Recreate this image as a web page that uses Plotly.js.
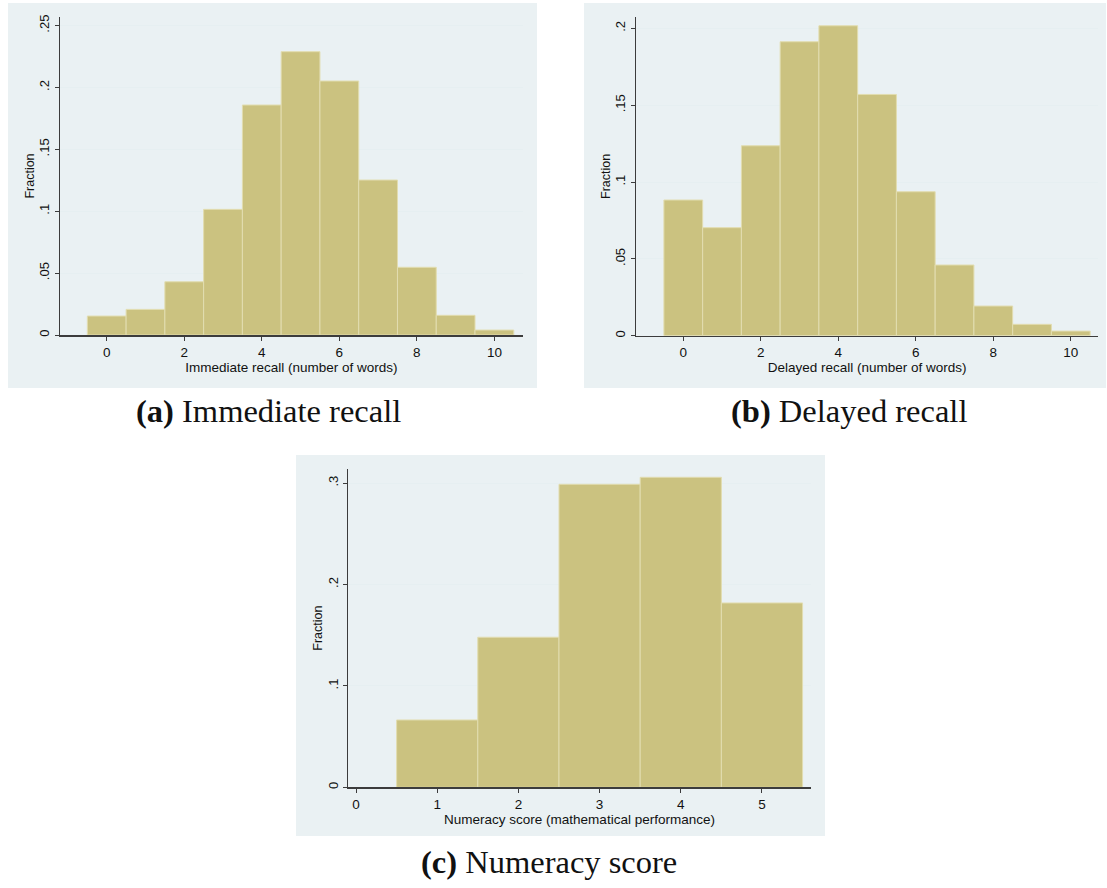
<!DOCTYPE html>
<html>
<head>
<meta charset="utf-8">
<script src="https://cdn.plot.ly/plotly-3.0.1.min.js"></script>
<style>
  html, body { margin: 0; padding: 0; background: #ffffff; }
  #chart { width: 1107px; height: 888px; }
</style>
</head>
<body>
<div id="chart"></div>
<script>
// Word-recall scores (number of words) and share of respondents at each score
const recallScores = [0, 1, 2, 3, 4, 5, 6, 7, 8, 9, 10];
const immediateFraction = [0.0153, 0.0207, 0.0430, 0.1015, 0.1858, 0.2289, 0.2052, 0.1252, 0.0547, 0.0159, 0.0040];
const delayedFraction = [0.0883, 0.0703, 0.1236, 0.1913, 0.2017, 0.1570, 0.0937, 0.0460, 0.0193, 0.0074, 0.0030];

// Numeracy score (mathematical performance) and share of respondents
const numeracyScores = [1, 2, 3, 4, 5];
const numeracyFraction = [0.0664, 0.1480, 0.2988, 0.3057, 0.1818];

// Axis ticks
const recallTicks = [0, 2, 4, 6, 8, 10];
const immediateYTicks = [0, 0.05, 0.10, 0.15, 0.20, 0.25];
const immediateYLabels = ['0', '.05', '.1', '.15', '.2', '.25'];
const delayedYTicks = [0, 0.05, 0.10, 0.15, 0.20];
const delayedYLabels = ['0', '.05', '.1', '.15', '.2'];
const numeracyTicks = [0, 1, 2, 3, 4, 5];
const numeracyYTicks = [0, 0.1, 0.2, 0.3];
const numeracyYLabels = ['0', '.1', '.2', '.3'];

// Captions
const captions = [
  {tag: '(a)', text: 'Immediate recall'},
  {tag: '(b)', text: 'Delayed recall'},
  {tag: '(c)', text: 'Numeracy score'}
];

const W = 1107, H = 888;
const px = v => v / W;          // horizontal pixel -> paper
const py = v => (H - v) / H;    // vertical pixel (from top) -> paper

const BAR = '#cbc280';
const BAR_EDGE = '#e2ddb0';
const REGION = '#eaf1f3';
const GRID = '#e6eff1';
const AXIS = '#3c3c3c';
const SANS = 'Liberation Sans, Arial, sans-serif';

function barTrace(x, y, xa, ya) {
  return {
    type: 'bar', x: x, y: y, xaxis: xa, yaxis: ya, width: 1,
    marker: {color: BAR, line: {color: BAR_EDGE, width: 1}},
    hoverinfo: 'x+y', showlegend: false
  };
}

function xAxis(domain, range, ticks, title, anchor) {
  return {
    domain: domain, range: range, anchor: anchor,
    tickmode: 'array', tickvals: ticks, ticktext: ticks.map(String),
    ticks: 'outside', ticklen: 4, tickwidth: 1, tickcolor: AXIS,
    showline: true, linecolor: AXIS, linewidth: 1.5,
    showgrid: false, zeroline: false,
    tickfont: {family: SANS, size: 13.5, color: '#111'},
    title: {text: title, font: {family: SANS, size: 13.5, color: '#111'}, standoff: 1},
    fixedrange: true
  };
}

function yAxis(domain, range, ticks, labels, anchor) {
  return {
    domain: domain, range: range, anchor: anchor,
    tickmode: 'array', tickvals: ticks, ticktext: labels, tickangle: -90,
    ticks: 'outside', ticklen: 4, tickwidth: 1, tickcolor: AXIS,
    showline: true, linecolor: AXIS, linewidth: 1.5,
    showgrid: true, gridcolor: GRID, gridwidth: 1, zeroline: false,
    tickfont: {family: SANS, size: 13, color: '#111'},
    title: {text: 'Fraction', font: {family: SANS, size: 12.5, color: '#111'}, standoff: 0},
    fixedrange: true
  };
}

const data = [
  barTrace(recallScores, immediateFraction, 'x', 'y'),
  barTrace(recallScores, delayedFraction, 'x2', 'y2'),
  barTrace(numeracyScores, numeracyFraction, 'x3', 'y3')
];

// Light graph-region panels behind each plot
const regions = [
  [8, 3, 537, 388],
  [584, 3, 1106, 388],
  [296, 455, 825, 836]
];
const shapes = regions.map(r => ({
  type: 'rect', xref: 'paper', yref: 'paper', layer: 'below',
  x0: px(r[0]), x1: px(r[2]), y0: py(r[3]), y1: py(r[1]),
  fillcolor: REGION, line: {width: 0}
}));

const captionPos = [[268, 411], [849, 411], [549, 862]];
const annotations = captions.map((c, i) => ({
  xref: 'paper', yref: 'paper',
  x: px(captionPos[i][0]), y: py(captionPos[i][1]),
  xanchor: 'center', yanchor: 'middle', showarrow: false,
  text: '<b>' + c.tag + '</b> ' + c.text,
  font: {family: 'Liberation Serif, Times New Roman, serif', size: 32.5, color: '#111'}
}));

const layout = {
  width: W, height: H,
  margin: {l: 0, r: 0, t: 0, b: 0},
  paper_bgcolor: '#ffffff', plot_bgcolor: '#ffffff',
  bargap: 0, showlegend: false,
  xaxis:  xAxis([px(60), px(522.7)], [-1.205, 10.73], recallTicks, 'Immediate recall (number of words)', 'y'),
  yaxis:  yAxis([py(335), py(17)], [0, 0.2569], immediateYTicks, immediateYLabels, 'x'),
  xaxis2: xAxis([px(636), px(1098.3)], [-1.22, 10.71], recallTicks, 'Delayed recall (number of words)', 'y2'),
  yaxis2: yAxis([py(335.7), py(17)], [0, 0.2074], delayedYTicks, delayedYLabels, 'x2'),
  xaxis3: xAxis([px(348.3), px(810.7)], [-0.095, 5.60], numeracyTicks, 'Numeracy score (mathematical performance)', 'y3'),
  yaxis3: yAxis([py(787.3), py(469)], [0, 0.3139], numeracyYTicks, numeracyYLabels, 'x3'),
  shapes: shapes,
  annotations: annotations
};

Plotly.newPlot('chart', data, layout, {displayModeBar: false, staticPlot: true});
</script>
</body>
</html>
